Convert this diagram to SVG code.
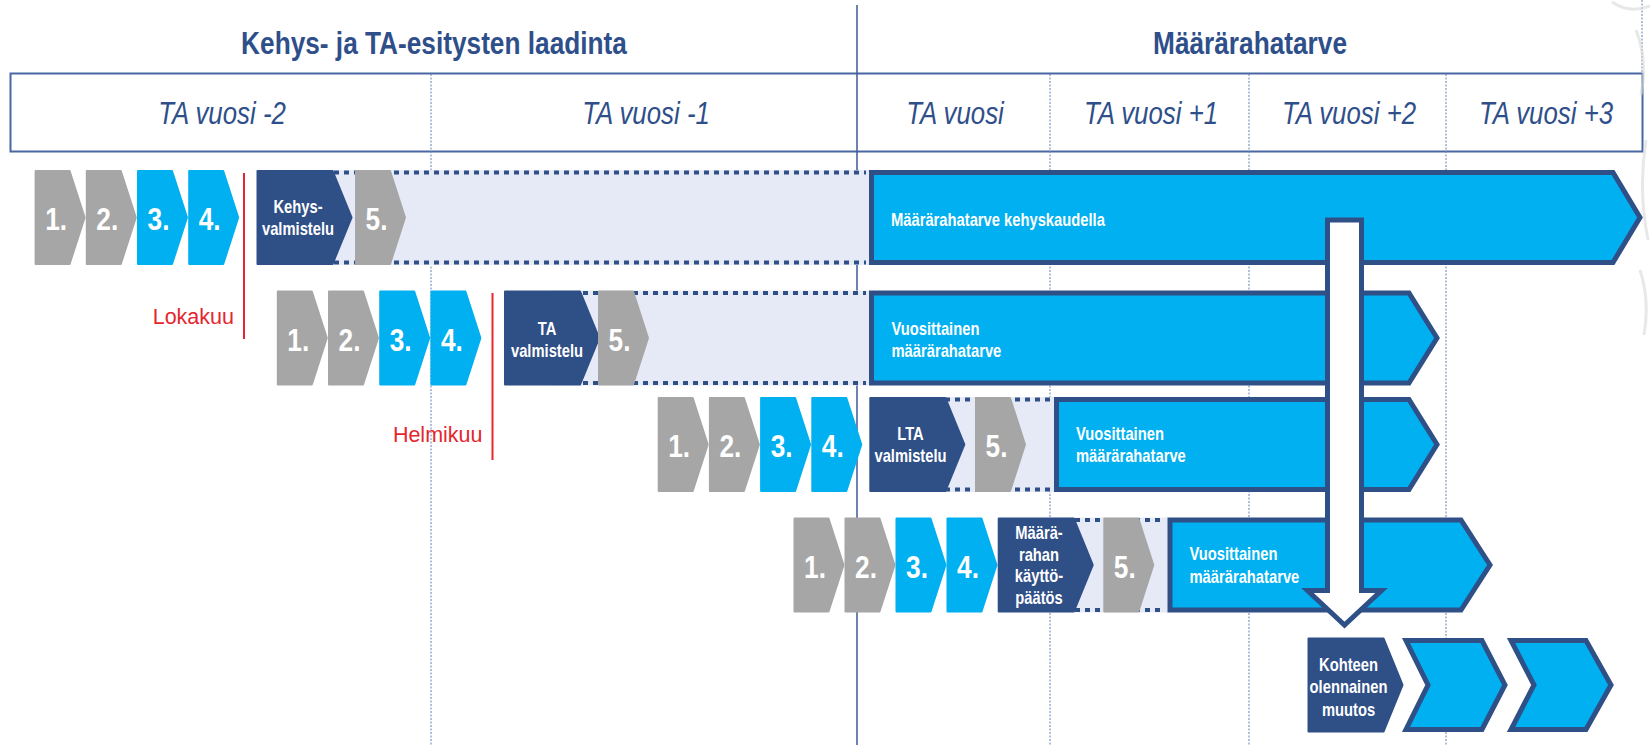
<svg xmlns="http://www.w3.org/2000/svg" xmlns:xlink="http://www.w3.org/1999/xlink" width="1650" height="745" viewBox="0 0 1650 745">
<style>
.f{font-family:"Liberation Sans",Arial,sans-serif}
.hd{font-family:"Liberation Sans",Arial,sans-serif;font-weight:bold;font-size:32px;fill:#2F4F8A;text-anchor:middle}
.yr{font-family:"Liberation Sans",Arial,sans-serif;font-style:italic;font-size:31.5px;fill:#2F4F8A;text-anchor:middle}
.num{font-family:"Liberation Sans",Arial,sans-serif;font-weight:bold;font-size:32px;fill:#fff;text-anchor:middle}
.lb{font-family:"Liberation Sans",Arial,sans-serif;font-weight:bold;font-size:18px;fill:#fff}
.lbm{text-anchor:middle}
.red{font-family:"Liberation Sans",Arial,sans-serif;font-size:21.5px;fill:#E5262E;text-anchor:end}
.gray{fill:#A6A6A6;stroke:#A6A6A6;stroke-width:2;stroke-linejoin:round}
.blue{fill:#00B0F0;stroke:#00B0F0;stroke-width:2;stroke-linejoin:round}
.navy{fill:#2F4F87;stroke:#2F4F87;stroke-width:2;stroke-linejoin:round}
.big{fill:#00B0F0;stroke:#2F4F87;stroke-width:5;stroke-linejoin:miter}
.band{fill:#E6EAF6}
.dots{stroke:#2F4F87;stroke-width:4;stroke-dasharray:5 5;fill:none}
.grid{stroke:#6680B5;stroke-width:1;stroke-dasharray:2 1.5;fill:none}
.solid{stroke:#3E5A96;stroke-width:1.5;fill:none}
.redl{stroke:#E5262E;stroke-width:2;fill:none}
</style>
<defs>
<path id="cv" d="M1,1 H35 L50,47.5 L35,94 H1 Z"/>
<path id="nv" d="M1,1 H76 L95,47.5 L76,94 H1 Z"/>
</defs>

<g id="header">
<rect x="10.5" y="73.5" width="1632" height="78" fill="#fff" stroke="#4A66A3" stroke-width="2"/>
<text class="hd" transform="translate(434,54) scale(0.82,1)">Kehys- ja TA-esitysten laadinta</text>
<text class="hd" transform="translate(1250,54) scale(0.82,1)">Määrärahatarve</text>
<text class="yr" transform="translate(222,123.5) scale(0.82,1)">TA vuosi -2</text>
<text class="yr" transform="translate(646,123.5) scale(0.82,1)">TA vuosi -1</text>
<text class="yr" transform="translate(955,123.5) scale(0.82,1)">TA vuosi</text>
<text class="yr" transform="translate(1151,123.5) scale(0.82,1)">TA vuosi +1</text>
<text class="yr" transform="translate(1349,123.5) scale(0.82,1)">TA vuosi +2</text>
<text class="yr" transform="translate(1546,123.5) scale(0.82,1)">TA vuosi +3</text>
</g>

<g id="gridlines">
<line class="grid" x1="431" y1="74" x2="431" y2="745"/>
<line class="grid" x1="1050" y1="74" x2="1050" y2="745"/>
<line class="grid" x1="1249" y1="74" x2="1249" y2="745"/>
<line class="grid" x1="1446" y1="74" x2="1446" y2="745"/>
<line class="grid" x1="1642" y1="0" x2="1642" y2="73"/>
<line class="solid" x1="857" y1="5" x2="857" y2="745"/>
<path d="M1612,2 Q1630,14 1650,6 M1636,30 Q1648,60 1641,95 M1646,140 Q1638,190 1648,240 M1640,270 Q1650,300 1644,335" stroke="#D8D8D8" stroke-width="3" fill="none" opacity="0.6"/>
</g>

<g id="bands">
<rect class="band" x="300" y="170" width="569" height="95"/>
<path class="dots" d="M334,172.5 H866 M334,262.5 H866"/>
<rect class="band" x="550" y="290.5" width="319" height="95"/>
<path class="dots" d="M583,293 H866 M583,383 H866"/>
<rect class="band" x="920" y="397" width="134" height="95"/>
<path class="dots" d="M945,399.5 H1051 M945,489.5 H1051"/>
<rect class="band" x="1050" y="517.5" width="118" height="95"/>
<path class="dots" d="M1075,520 H1165 M1075,610 H1165"/>
</g>

<g id="row1">
<use xlink:href="#cv" href="#cv" class="gray" x="34.6" y="170"/>
<use xlink:href="#cv" href="#cv" class="gray" x="85.8" y="170"/>
<use xlink:href="#cv" href="#cv" class="blue" x="137" y="170"/>
<use xlink:href="#cv" href="#cv" class="blue" x="188.2" y="170"/>
<text class="num" transform="translate(56.1,230) scale(0.82,1)">1.</text>
<text class="num" transform="translate(107.3,230) scale(0.82,1)">2.</text>
<text class="num" transform="translate(158.5,230) scale(0.82,1)">3.</text>
<text class="num" transform="translate(209.7,230) scale(0.82,1)">4.</text>
<line class="redl" x1="244" y1="173" x2="244" y2="339"/>
<text class="red" x="234" y="324">Lokakuu</text>
<use xlink:href="#nv" href="#nv" class="navy" x="256.5" y="170"/>
<text class="lb lbm" transform="translate(298,213) scale(0.82,1)"><tspan x="0" y="0">Kehys-</tspan><tspan x="0" y="22">valmistelu</tspan></text>
<use xlink:href="#cv" href="#cv" class="gray" x="355" y="170"/>
<text class="num" transform="translate(376.5,230) scale(0.82,1)">5.</text>
</g>

<g id="row2">
<use xlink:href="#cv" href="#cv" class="gray" x="276.8" y="290.5"/>
<use xlink:href="#cv" href="#cv" class="gray" x="328" y="290.5"/>
<use xlink:href="#cv" href="#cv" class="blue" x="379.2" y="290.5"/>
<use xlink:href="#cv" href="#cv" class="blue" x="430.4" y="290.5"/>
<text class="num" transform="translate(298.3,351) scale(0.82,1)">1.</text>
<text class="num" transform="translate(349.5,351) scale(0.82,1)">2.</text>
<text class="num" transform="translate(400.7,351) scale(0.82,1)">3.</text>
<text class="num" transform="translate(451.9,351) scale(0.82,1)">4.</text>
<line class="redl" x1="492.5" y1="293" x2="492.5" y2="460"/>
<text class="red" x="482.5" y="441.5">Helmikuu</text>
<use xlink:href="#nv" href="#nv" class="navy" x="504" y="290.5"/>
<text class="lb lbm" transform="translate(547,335) scale(0.82,1)"><tspan x="0" y="0">TA</tspan><tspan x="0" y="22">valmistelu</tspan></text>
<use xlink:href="#cv" href="#cv" class="gray" x="598" y="290.5"/>
<text class="num" transform="translate(619.5,351) scale(0.82,1)">5.</text>
</g>

<g id="row3">
<use xlink:href="#cv" href="#cv" class="gray" x="657.7" y="397"/>
<use xlink:href="#cv" href="#cv" class="gray" x="708.9" y="397"/>
<use xlink:href="#cv" href="#cv" class="blue" x="760.1" y="397"/>
<use xlink:href="#cv" href="#cv" class="blue" x="811.3" y="397"/>
<text class="num" transform="translate(679.2,457) scale(0.82,1)">1.</text>
<text class="num" transform="translate(730.4,457) scale(0.82,1)">2.</text>
<text class="num" transform="translate(781.6,457) scale(0.82,1)">3.</text>
<text class="num" transform="translate(832.8,457) scale(0.82,1)">4.</text>
<use xlink:href="#nv" href="#nv" class="navy" x="869.3" y="397"/>
<text class="lb lbm" transform="translate(910.5,440) scale(0.82,1)"><tspan x="0" y="0">LTA</tspan><tspan x="0" y="22.5">valmistelu</tspan></text>
<use xlink:href="#cv" href="#cv" class="gray" x="975" y="397"/>
<text class="num" transform="translate(996.5,457) scale(0.82,1)">5.</text>
</g>

<g id="row4">
<use xlink:href="#cv" href="#cv" class="gray" x="793.5" y="517.5"/>
<use xlink:href="#cv" href="#cv" class="gray" x="844.5" y="517.5"/>
<use xlink:href="#cv" href="#cv" class="blue" x="895.5" y="517.5"/>
<use xlink:href="#cv" href="#cv" class="blue" x="946.5" y="517.5"/>
<text class="num" transform="translate(815,577.5) scale(0.82,1)">1.</text>
<text class="num" transform="translate(866,577.5) scale(0.82,1)">2.</text>
<text class="num" transform="translate(917,577.5) scale(0.82,1)">3.</text>
<text class="num" transform="translate(968,577.5) scale(0.82,1)">4.</text>
<use xlink:href="#nv" href="#nv" class="navy" x="997.7" y="517.5"/>
<text class="lb lbm" transform="translate(1039,539) scale(0.82,1)"><tspan x="0" y="0">Määrä-</tspan><tspan x="0" y="21.7">rahan</tspan><tspan x="0" y="43.4">käyttö-</tspan><tspan x="0" y="65.1">päätös</tspan></text>
<use xlink:href="#cv" href="#cv" class="gray" x="1103.3" y="517.5"/>
<text class="num" transform="translate(1124.8,577.5) scale(0.82,1)">5.</text>
</g>

<g id="need-arrows">
<path class="big" d="M871.5,172.5 H1613 L1640,217.5 L1613,262.5 H871.5 Z"/>
<text class="lb" transform="translate(891,226) scale(0.82,1)">Määrärahatarve kehyskaudella</text>
<path class="big" d="M871.5,293 H1409 L1437,338 L1409,383 H871.5 Z"/>
<text class="lb" transform="translate(891.5,335) scale(0.82,1)"><tspan x="0" y="0">Vuosittainen</tspan><tspan x="0" y="22">määrärahatarve</tspan></text>
<path class="big" d="M1056.5,399.5 H1409 L1437,444.5 L1409,489.5 H1056.5 Z"/>
<text class="lb" transform="translate(1076,440) scale(0.82,1)"><tspan x="0" y="0">Vuosittainen</tspan><tspan x="0" y="22.5">määrärahatarve</tspan></text>
<path class="big" d="M1170,520 H1461 L1490,565 L1461,610 H1170 Z"/>
<text class="lb" transform="translate(1189.5,560) scale(0.82,1)"><tspan x="0" y="0">Vuosittainen</tspan><tspan x="0" y="23">määrärahatarve</tspan></text>
</g>

<g id="down-arrow">
<path d="M1327.5,220 H1361.5 V590.5 H1381.5 L1344.5,625 L1307.5,590.5 H1327.5 Z" fill="#fff" stroke="#2F4F87" stroke-width="5" stroke-linejoin="miter"/>
</g>

<g id="row5">
<use xlink:href="#nv" href="#nv" class="navy" x="1307.5" y="637.5"/>
<text class="lb lbm" transform="translate(1348.5,671) scale(0.82,1)"><tspan x="0" y="0">Kohteen</tspan><tspan x="0" y="22.5">olennainen</tspan><tspan x="0" y="45">muutos</tspan></text>
<path class="big" d="M1406,640.5 H1482 L1505,685 L1482,729.5 H1406 L1428,685 Z"/>
<path class="big" d="M1511,640.5 H1586 L1611,685 L1586,729.5 H1511 L1534,685 Z"/>
</g>
</svg>
